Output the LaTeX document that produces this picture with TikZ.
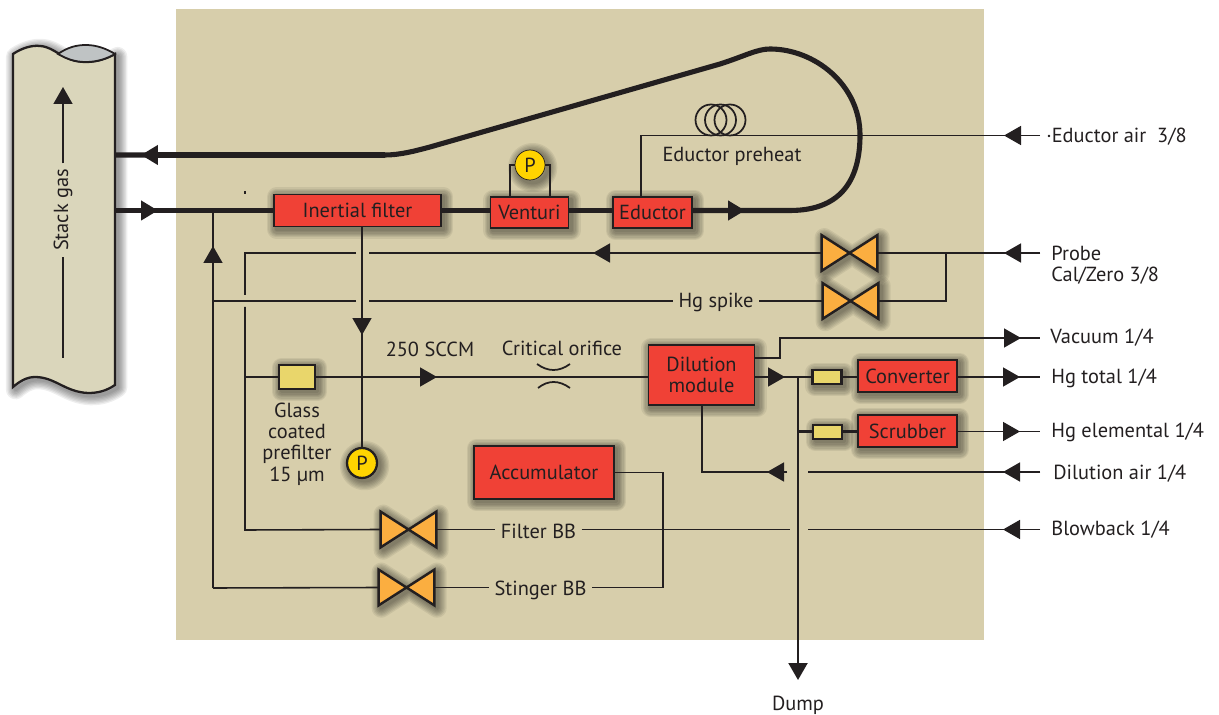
\documentclass[tikz,border=0pt]{standalone}
\usepackage{fontspec}
\setmainfont{PT Sans}
\usetikzlibrary{arrows.meta}
\definecolor{panelfill}{HTML}{D7CEAB}
\definecolor{pipefill}{HTML}{DAD6BB}
\definecolor{boreFill}{HTML}{BFC3C4}
\definecolor{inkline}{HTML}{231F20}
\definecolor{boxred}{HTML}{F04136}
\definecolor{cellyellow}{HTML}{E9D66B}
\definecolor{valveorange}{HTML}{FBAE40}
\definecolor{gaugeyellow}{HTML}{FFD400}
\tikzset{
	shlayer/.style={preaction={draw=black,fill=none,draw opacity=.065,line join=round,line width=#1,transform canvas={shift={(1.5pt,-1.5pt)}}}},
	softshadow/.style={shlayer=11pt,shlayer=9.5pt,shlayer=8pt,shlayer=6.5pt,shlayer=5pt,shlayer=3.5pt,shlayer=2pt},
	thinline/.style={draw=inkline,line width=0.9pt},
	thickline/.style={draw=inkline,line width=2.9pt},
	dumpline/.style={draw=inkline,line width=1.2pt},
	flowtip/.style={-{Triangle[length=0.34cm,width=0.38cm]}},
	redbox/.style={draw=inkline,line width=0.9pt,fill=boxred,softshadow,inner sep=0pt,align=center,text=inkline},
	cellbox/.style={draw=inkline,line width=1.4pt,fill=cellyellow,softshadow,inner sep=0pt},
	gauge/.style={circle,draw=inkline,fill=gaugeyellow,softshadow,inner sep=0pt,minimum size=0.6cm,text=inkline},
	valvebox/.style={inner sep=0pt,minimum width=1.1cm,minimum height=0.7cm},
	txt/.style={inner xsep=3pt,inner ysep=1pt,text=inkline,align=center},
	rtxt/.style={anchor=west,inner sep=0pt,text=inkline,align=left}
}
\begin{document}
\begin{tikzpicture}[x=0.02cm,y=-0.02cm,font=\fontsize{11.6}{12.2}\selectfont]
	\useasboundingbox (0,0) rectangle (1219,715);
	\fill[panelfill] (176,9) rectangle (984,640);

	% stack
	\draw[line width=1.3pt,draw=inkline,fill=pipefill,softshadow] (13,54) .. controls (22,48) and (32,45) .. (40,46) .. controls (56,47) and (62,62) .. (86,62) .. controls (98,62) and (108,58) .. (115,54) -- (115,385) .. controls (106,391) and (98,393) .. (88,393) .. controls (65,392) and (55,377) .. (35,377) .. controls (27,377) and (20,381) .. (13,387) -- cycle;
	\draw[line width=1pt,draw=inkline,fill=boreFill] (58,54) .. controls (68,47) and (77,45) .. (86,45) .. controls (97,45) and (107,49) .. (115,54) .. controls (108,58) and (98,62) .. (86,62) .. controls (75,62) and (67,59) .. (58,54) -- cycle;

	\node[txt,rotate=90,inner xsep=3pt] (stack) at (63,210) {Stack gas};
	\coordinate (stacktop) at (63,87);
	\coordinate (stackbot) at (63,358);
	\draw[thinline] (stackbot) -- (stack.west);
	\draw[thinline,flowtip] (stack.east) -- (stacktop);

	% boxes
	\foreach \n/\x/\y/\w/\h/\t in {inertial/357.5/210.5/167/32/Inertial filter,
			venturi/529.5/212.5/78/31/Venturi,
			eductor/652.5/212.5/79/31/Eductor,
			dilution/701.5/375/106/60/Dilution\\module,
			converter/907.5/376/99/32/Converter,
			scrubber/907.5/431/99/32/Scrubber,
			accumulator/544/472.5/140/53/Accumulator}
		\node[redbox,minimum width=\w*0.02cm,minimum height=\h*0.02cm] (\n) at (\x,\y) {\t};

	\foreach \n/\x/\y/\w/\h in {prefilter/297/377/36/24, convcell/827/377/29/14, scrubcell/827.5/432/29/14}
		\node[cellbox,minimum width=\w*0.02cm,minimum height=\h*0.02cm] (\n) at (\x,\y) {};

	\node[gauge] (topgauge) at (530,165) {P};
	\node[gauge,line width=1.3pt] (lowgauge) at (362,463) {P};

	% valves
	\foreach \n/\x/\y in {calvalve/849.5/253, hgvalve/850.5/301, filtervalve/408.5/529.5, stingervalve/406.5/587.5} {
		\node[valvebox] (\n) at (\x,\y) {};
		\draw[draw=inkline,line width=1.4pt,fill=valveorange,softshadow] (\n.north west) -- (\n.south east) -- (\n.north east) -- (\n.south west) -- cycle;
	}

	% labels
	\node[txt] (hgspike) at (716,302.5) {Hg spike};
	\node[txt] (filterbb) at (538.5,531) {Filter BB};
	\node[txt] (stingerbb) at (540.5,590) {Stinger BB};
	\node[txt,inner sep=0pt] (sccm) at (430,349) {250 SCCM};
	\node[txt,inner sep=0pt] (orificetxt) at (562,348) {Critical orifice};
	\node[txt,inner sep=0pt] (preheat) at (732,156) {Eductor preheat};
	\node[txt,inner sep=0pt] (glass) at (297,444) {Glass\\coated\\prefilter\\15 µm};
	\node[txt,inner sep=1pt] (dump) at (798,705) {Dump};
	\node[rtxt] (eductorair) at (1046,137) {·Eductor air\ \ 3/8};
	\node[rtxt] (probe) at (1051,265) {Probe\\Cal/Zero 3/8};
	\node[rtxt] (vacuum) at (1050,337.5) {Vacuum 1/4};
	\node[rtxt] (hgtotal) at (1051,378) {Hg total 1/4};
	\node[rtxt] (hgelem) at (1051,432.5) {Hg elemental 1/4};
	\node[rtxt] (dilair) at (1053,474) {Dilution air 1/4};
	\node[rtxt] (blowback) at (1051,530) {Blowback 1/4};

	% fixed points of the lines
	\foreach \n/\x/\y in {stackout/115/155, retTip/141/155, retBend/385/155, stackin/115/210.5, supTip/158/210.5,
			junctA/213/210.5, eduTip/745/210.5, loopA/790/210.5, loopB/860/135, loopC/770/49,
			spikeTip/213/246, leftLow/213/588, filtTop/245/253, filtGapA/245/295, filtGapB/245/307, filtLow/245/530,
			filtMain/245/377, downTip/362/335, mainTip/437/377,
			calTip/593/253, calGapA/369/253, calGapB/356/253, hgGapA/369/301, hgGapB/356/301, hgLeft/213/301,
			eduBend/641/135.5, airTip/1004/135.5, airEnd/1040/135.5,
			calIn/1004/253, calEnd/1040/253, calJoin/946/253, hgJoin/946/301,
			modA/754/358, modB/780/358, modC/780/338, vacTip/1021/338, vacEnd/1040/338,
			modTip/785/377, dumpTop/798/377, dumpTip/798/680,
			convTip/1020/377, convEnd/1040/377, scrubJoin/798/431.5, scrubTip/1020/431.5, scrubEnd/1040/431.5,
			dilIn/1003/472, dilEnd/1040/472, dilGapA/808/472, dilGapB/787/472, dilTip/767/472, dilBend/702/472,
			bbIn/1003/529.5, bbEnd/1040/529.5, bbGapA/808/529.5, bbGapB/790/529.5,
			accA/663/472.5, accB/663/587.5, tickA/245/191, tickB/245/194}
		\coordinate (\n) at (\x,\y);

	% heavy lines
	\draw[thickline] (stackout) -- (retBend) .. controls (400,155) and (415,151) .. (430,147) -- (720,64) .. controls (745,56) and (757,49) .. (loopC) .. controls (815,49) and (860,85) .. (loopB) .. controls (860,175) and (845,210.5) .. (loopA) -- (eductor.east |- eduTip);
	\draw[thickline,flowtip] (retBend) -- (retTip);
	\draw[thickline] (stackin) -- (inertial.west);
	\draw[thickline,flowtip] (stackin) -- (supTip);
	\draw[thickline] (inertial.east) -- (venturi.west |- inertial.east);
	\draw[thickline] (venturi.east |- inertial.east) -- (eductor.west |- inertial.east);
	\draw[thickline,flowtip] (eductor.east |- eduTip) -- (eduTip);

	% venturi gauge
	\coordinate (ventL) at (510,165);
	\coordinate (ventR) at (550,165);
	\draw[thinline] (ventL |- venturi.north) -- (ventL) -- (topgauge);
	\draw[thinline] (ventR |- venturi.north) -- (ventR) -- (topgauge);

	% sampling line
	\draw[thinline] (lowgauge |- inertial.south) -- (lowgauge);
	\draw[thinline,flowtip] (lowgauge |- inertial.south) -- (downTip);
	\draw[thinline] (filtMain) -- (prefilter);
	\draw[thinline] (prefilter) -- (dilution.west |- mainTip);
	\draw[thinline,flowtip] (prefilter) -- (mainTip);
	\draw[thinline,line width=1pt] (537,364) .. controls (548,372) and (559,372) .. (570,364);
	\draw[thinline,line width=1pt] (538,388) .. controls (548,380) and (559,380) .. (570,388);
	\draw[thinline] (tickA) -- (tickB);

	% cal and spike
	\draw[thinline] (calEnd) -- (calvalve.east);
	\draw[thinline,flowtip] (calEnd) -- (calIn);
	\draw[thinline] (calvalve.west) -- (calGapA);
	\draw[thinline,flowtip] (calvalve.west) -- (calTip);
	\draw[thinline] (calGapB) -- (filtTop) -- (filtGapA);
	\draw[thinline] (filtGapB) -- (filtLow) -- (filtervalve.west);
	\draw[thinline] (calJoin) -- (hgJoin) -- (hgvalve.east);
	\draw[thinline] (hgvalve.west) -- (hgspike.east |- hgvalve.west);
	\draw[thinline] (hgspike.west |- hgvalve.west) -- (hgGapA);
	\draw[thinline] (hgGapB) -- (hgLeft);
	\draw[thinline] (leftLow) -- (junctA);
	\draw[thinline,flowtip] (leftLow) -- (spikeTip);
	\draw[thinline] (leftLow) -- (stingervalve.west);

	% blowback lines
	\draw[thinline] (filtervalve.east) -- (filterbb.west |- filtervalve.east);
	\draw[thinline] (filterbb.east |- filtervalve.east) -- (bbGapB);
	\draw[thinline] (bbEnd) -- (bbGapA);
	\draw[thinline,flowtip] (bbEnd) -- (bbIn);
	\draw[thinline] (stingervalve.east) -- (stingerbb.west |- stingervalve.east);
	\draw[thinline] (stingerbb.east |- stingervalve.east) -- (accB) -- (accA) -- (accumulator.east);

	% eductor air
	\draw[thinline] (eduBend |- eductor.north) -- (eduBend) -- (airEnd);
	\draw[thinline,flowtip] (airEnd) -- (airTip);
	\foreach \n/\x in {coilA/711, coilB/720.5, coilC/730}
		\node[circle,draw=inkline,line width=1pt,minimum size=0.62cm,inner sep=0pt] (\n) at (\x,120) {};

	% dilution module outlets
	\draw[thinline] (modA) -- (modB) -- (modC) -- (vacEnd);
	\draw[thinline,flowtip] (modC) -- (vacTip);
	\draw[thinline] (dilution.east |- modTip) -- (convcell);
	\draw[thinline,flowtip] (dilution.east |- modTip) -- (modTip);
	\draw[thinline] (convcell) -- (converter.west |- convcell);
	\draw[thinline] (converter.east |- convTip) -- (convEnd);
	\draw[thinline,flowtip] (converter.east |- convTip) -- (convTip);
	\draw[dumpline] (scrubJoin) -- (scrubcell.west |- scrubJoin);
	\draw[dumpline] (scrubcell.east |- scrubJoin) -- (scrubber.west |- scrubJoin);
	\draw[thinline] (scrubber.east |- scrubTip) -- (scrubEnd);
	\draw[thinline,flowtip] (scrubber.east |- scrubTip) -- (scrubTip);
	\draw[thinline] (dilEnd) -- (dilGapA);
	\draw[thinline,flowtip] (dilEnd) -- (dilIn);
	\draw[thinline] (dilGapB) -- (dilBend) -- (dilBend |- dilution.south);
	\draw[thinline,flowtip] (dilGapB) -- (dilTip);
	\draw[dumpline,flowtip] (dumpTop) -- (dumpTip);
\end{tikzpicture}
\end{document}
